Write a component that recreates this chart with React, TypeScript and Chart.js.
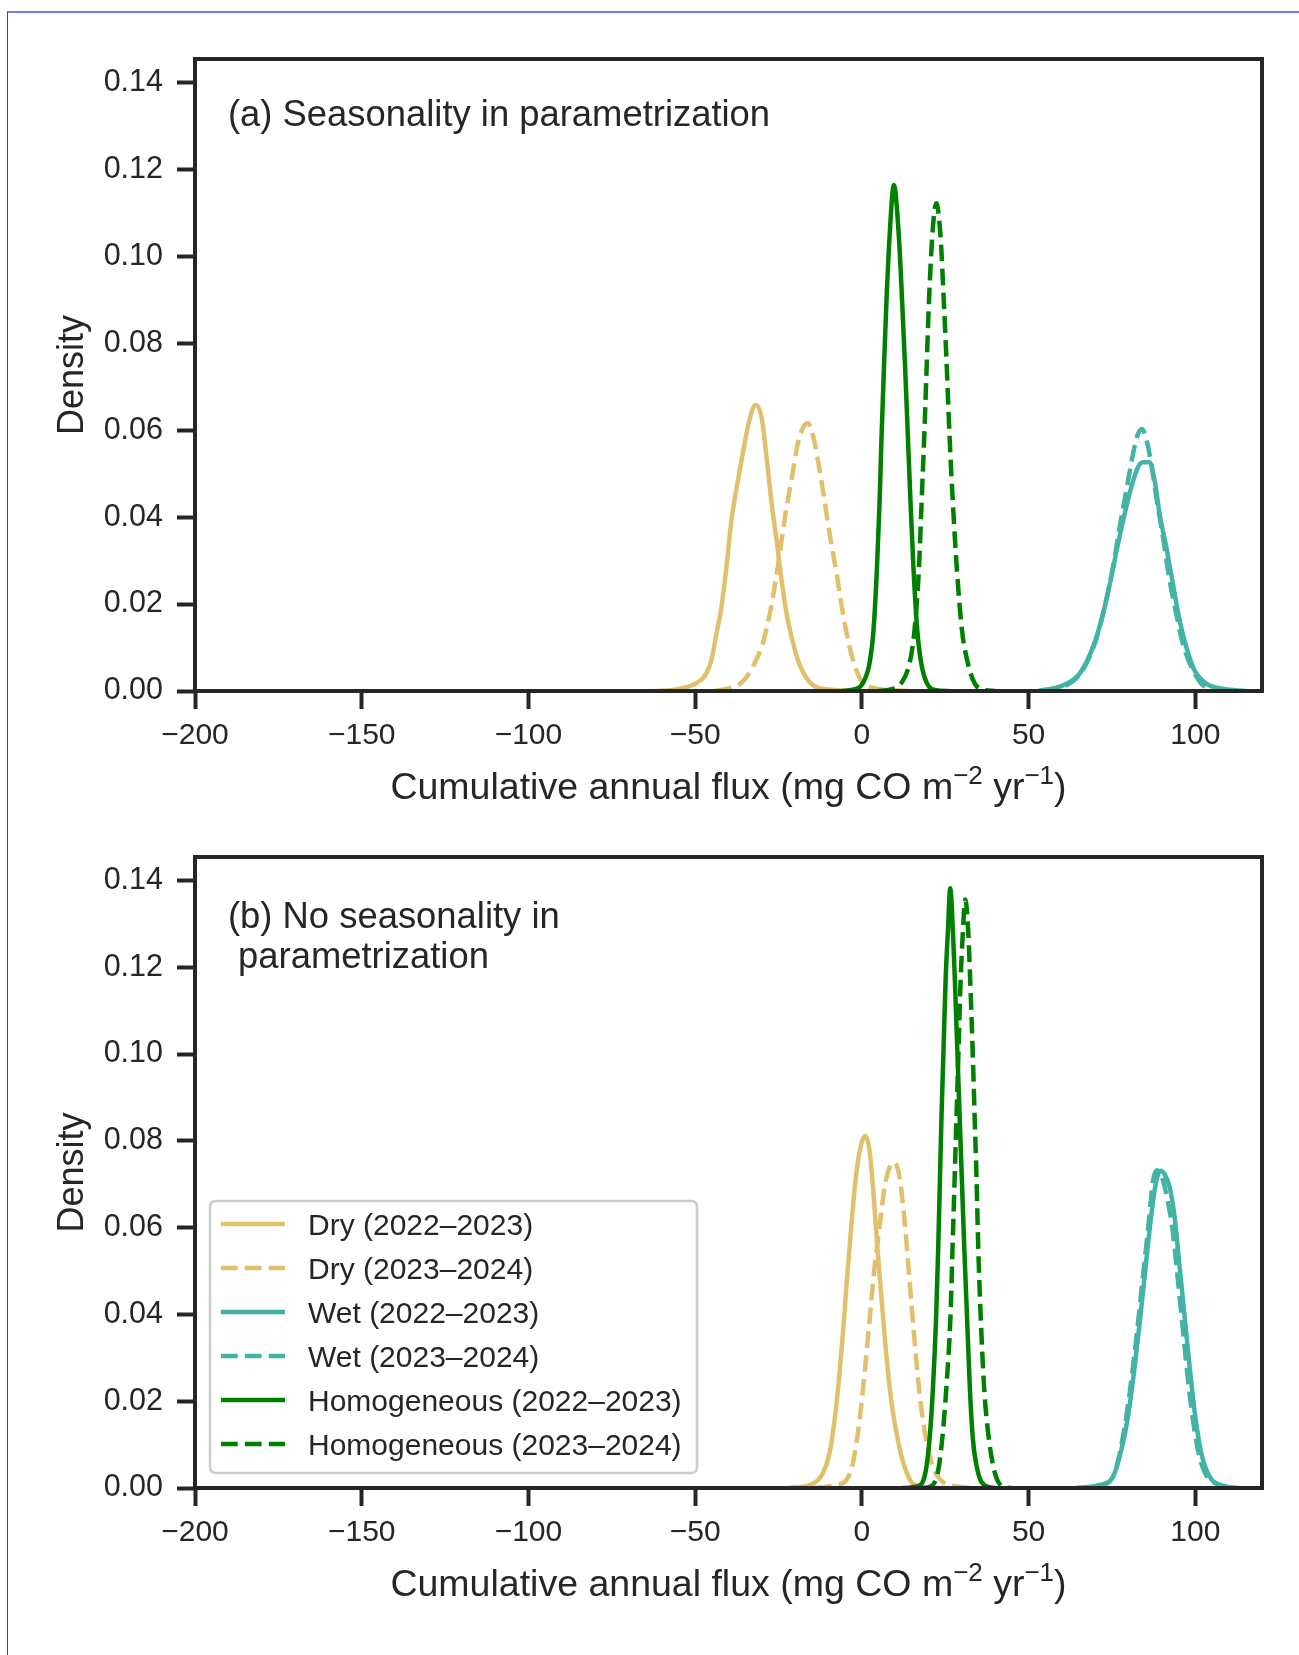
import React, { useEffect, useRef } from "react";
import { Chart, registerables } from "chart.js";

Chart.register(...registerables);

const FONT = '"Liberation Sans", Arial, Helvetica, sans-serif';
const INK = "#262626";

// ---- axes ----
const xTickValues = [-200, -150, -100, -50, 0, 50, 100];
const yTickValues = [0, 0.02, 0.04, 0.06, 0.08, 0.1, 0.12, 0.14];
const xRange = [-200, 120];
const yRange = [0, 0.1454];
const xAxisTitle = ["Cumulative annual flux (mg CO m", "−2", " yr", "−1", ")"];
const yAxisTitle = "Density";

// ---- series ----
const seriesLabels = [
  "Dry (2022–2023)",
  "Dry (2023–2024)",
  "Wet (2022–2023)",
  "Wet (2023–2024)",
  "Homogeneous (2022–2023)",
  "Homogeneous (2023–2024)",
];
const seriesColors = ["#e0c06c", "#e0c06c", "#43b3a6", "#43b3a6", "#008000", "#008000"];
const seriesDashed = [false, true, false, true, false, true];

// ---- panel (a): seasonality in parametrization ----
const dryA2223: [number, number][] = [
  [-62, 0], [-56, 0.0003], [-53.7, 0.0007], [-49.6, 0.0018], [-46.6, 0.0041], [-45.1, 0.0072],
  [-43.6, 0.0133], [-42.1, 0.0194], [-40.6, 0.0286], [-39.1, 0.0394], [-37.5, 0.047], [-35.7, 0.0547],
  [-33.7, 0.0624], [-31.9, 0.0658], [-30.1, 0.0631], [-28.6, 0.0539], [-27.2, 0.044], [-25.6, 0.0348],
  [-24.1, 0.0256], [-22.6, 0.0179], [-21.1, 0.0125], [-19.2, 0.0072], [-16.6, 0.003], [-13.6, 0.0009],
  [-7.6, 0.0002], [-3, 0],
];
const dryA2324: [number, number][] = [
  [-44, 0], [-38.7, 0.0009], [-35.7, 0.0022], [-32.7, 0.0056], [-29.7, 0.011], [-27.2, 0.0194],
  [-25.2, 0.0286], [-23.2, 0.0394], [-21.1, 0.0486], [-19.2, 0.057], [-17.5, 0.0608], [-16.2, 0.0616],
  [-14.7, 0.0589], [-13.2, 0.0532], [-11.7, 0.0463], [-9.7, 0.0363], [-7.6, 0.0271], [-5.7, 0.0179],
  [-3.7, 0.0102], [-1.7, 0.0049], [0.3, 0.0018], [3.3, 0.0007], [8.3, 0.0002], [14, 0],
];
const wetA2223: [number, number][] = [
  [53, 0], [60.3, 0.0013], [65.3, 0.004], [69.3, 0.0101], [72.3, 0.0177], [74.8, 0.0262],
  [76.8, 0.0338], [78.8, 0.0407], [80.8, 0.0469], [82.8, 0.0515], [84.3, 0.0526], [86.3, 0.0526],
  [87.8, 0.0484], [89.3, 0.0407], [91.3, 0.0331], [93.3, 0.0246], [95.3, 0.0162], [97.3, 0.0101],
  [99.8, 0.0047], [103.3, 0.0017], [108.3, 0.0005], [115, 0],
];
const wetA2324: [number, number][] = [
  [54, 0], [61.3, 0.0013], [65.8, 0.0043], [69.8, 0.0108], [72.8, 0.0193], [75.3, 0.0285],
  [77.3, 0.0377], [79.3, 0.0461], [81.3, 0.0545], [82.8, 0.0591], [84.0, 0.0603], [85.3, 0.058],
  [86.8, 0.0522], [88.3, 0.0446], [90.3, 0.0354], [92.3, 0.0254], [94.3, 0.0177], [96.3, 0.0108],
  [98.8, 0.0055], [101.8, 0.0017], [105.3, 0.0003], [108, 0],
];
const homA2223: [number, number][] = [
  [-6, 0], [-2.7, 0.0003], [0.3, 0.0018], [2.3, 0.0064], [3.5, 0.0141], [4.5, 0.0279],
  [5.3, 0.0432], [5.9, 0.0585], [6.6, 0.0739], [7.35, 0.0892], [8.3, 0.1045], [9.6, 0.1164],
  [11.1, 0.1045], [12.1, 0.0892], [13.0, 0.0739], [13.8, 0.0585], [14.6, 0.0432], [15.5, 0.0279],
  [16.6, 0.0141], [17.8, 0.0064], [19.5, 0.0018], [22.3, 0.0002], [26, 0],
];
const homA2324: [number, number][] = [
  [5, 0], [8.3, 0.0003], [11.8, 0.0018], [14.3, 0.0064], [15.8, 0.0141], [17.1, 0.0279],
  [17.9, 0.0432], [18.7, 0.0585], [19.4, 0.0739], [20.1, 0.0892], [21.1, 0.1045], [22.3, 0.1122],
  [23.6, 0.1045], [24.6, 0.0892], [25.5, 0.0739], [26.3, 0.0585], [27.3, 0.0432], [28.5, 0.0279],
  [30.0, 0.0141], [31.8, 0.0064], [33.8, 0.0018], [36.3, 0.0003], [40, 0],
];

// ---- panel (b): no seasonality in parametrization ----
const dryB2223: [number, number][] = [
  [-22, 0], [-14.7, 0.001], [-11.7, 0.0034], [-9.7, 0.008], [-8.2, 0.0156], [-6.9, 0.0248],
  [-5.7, 0.0355], [-4.5, 0.0478], [-3.2, 0.0601], [-1.7, 0.0723], [-0.2, 0.0792], [1.0, 0.0811],
  [2.3, 0.0777], [3.5, 0.0677], [4.8, 0.0539], [6.1, 0.0417], [7.3, 0.031], [8.8, 0.0202],
  [10.8, 0.011], [12.8, 0.0049], [15.3, 0.001], [19.3, 0.0001], [25, 0],
];
const dryB2324: [number, number][] = [
  [-14, 0], [-7.7, 0.0007], [-4.7, 0.0018], [-2.7, 0.0057], [-0.7, 0.0156], [0.8, 0.0263],
  [2.3, 0.0386], [3.8, 0.0509], [5.3, 0.0601], [6.8, 0.0693], [8.3, 0.0739], [9.8, 0.075],
  [11.3, 0.0716], [12.8, 0.0616], [14.3, 0.0478], [15.8, 0.034], [17.3, 0.0218], [19.1, 0.0118],
  [21.3, 0.0049], [24.3, 0.0014], [29.3, 0.0003], [34, 0],
];
const wetB2223: [number, number][] = [
  [64, 0], [71.3, 0.0007], [75.3, 0.0026], [77.8, 0.0087], [79.8, 0.0164], [81.8, 0.0279],
  [83.5, 0.0394], [85.1, 0.0509], [86.6, 0.0616], [88.1, 0.07], [89.5, 0.0731], [90.8, 0.0723],
  [92.3, 0.0693], [93.8, 0.0624], [95.3, 0.0509], [96.8, 0.0394], [98.3, 0.0279], [100.0, 0.0164],
  [101.8, 0.008], [104.3, 0.0026], [108.3, 0.0005], [113, 0],
];
const wetB2324: [number, number][] = [
  [65, 0], [72.3, 0.0007], [75.8, 0.0034], [77.5, 0.0087], [79.3, 0.0164], [81.3, 0.0279],
  [83.0, 0.0394], [84.6, 0.0509], [86.1, 0.0616], [87.3, 0.0708], [88.5, 0.0732], [90.0, 0.0716],
  [91.5, 0.067], [93.1, 0.06], [94.6, 0.0493], [96.1, 0.0378], [97.6, 0.0264], [99.3, 0.0156],
  [101.1, 0.0076], [103.3, 0.0029], [107.3, 0.0007], [111, 0],
];
const homB2223: [number, number][] = [
  [12, 0], [16.8, 0.0004], [19.1, 0.0037], [20.3, 0.0113], [21.3, 0.0227], [22.3, 0.0401],
  [22.9, 0.0555], [23.4, 0.0708], [23.9, 0.0861], [24.5, 0.1014], [25.1, 0.1168], [25.8, 0.1283],
  [26.5, 0.1382], [27.3, 0.1283], [27.9, 0.1168], [28.6, 0.1014], [29.3, 0.0861], [30.0, 0.0708],
  [30.7, 0.0555], [31.5, 0.0401], [32.4, 0.0227], [33.3, 0.0113], [34.8, 0.0037], [37.3, 0.0004], [40, 0],
];
const homB2324: [number, number][] = [
  [18, 0], [20.8, 0.0004], [22.8, 0.0037], [24.1, 0.0113], [25.3, 0.0227], [26.6, 0.0401],
  [27.2, 0.0555], [27.8, 0.0708], [28.4, 0.0861], [29.0, 0.1014], [29.6, 0.1168], [30.3, 0.1283],
  [31.0, 0.1356], [31.9, 0.1283], [32.5, 0.1168], [33.2, 0.1014], [33.8, 0.0861], [34.4, 0.0708],
  [34.9, 0.0555], [35.6, 0.0401], [36.7, 0.0227], [38.1, 0.0113], [39.8, 0.0037], [42.3, 0.0003], [45, 0],
];

const panelACurves = [dryA2223, dryA2324, wetA2223, wetA2324, homA2223, homA2324];
const panelBCurves = [dryB2223, dryB2324, wetB2223, wetB2324, homB2223, homB2324];
const panelANote = ["(a) Seasonality in parametrization"];
const panelBNote = ["(b) No seasonality in", " parametrization"];

// ---- layout (page pixels) ----
const W = 1299;
const H = 1655;
const PLOT_LEFT = 195;
const PLOT_RIGHT = 1262;
const X_AXIS_H = 80;
const LINE_W = 4.5;
const DASH = [16.7, 7.2];

type PanelProps = {
  curves: [number, number][][];
  top: number;
  bottom: number;
  note: string[];
  noteOffset: number;
  legend: boolean;
};

function drawXTitle(ctx: CanvasRenderingContext2D, cx: number, baseY: number) {
  const big = `37.5px ${FONT}`;
  const small = `26px ${FONT}`;
  const fonts = [big, small, big, small, big];
  const rise = [0, 15.5, 0, 15.5, 0];
  const widths = xAxisTitle.map((t, i) => {
    ctx.font = fonts[i];
    return ctx.measureText(t).width;
  });
  const total = widths.reduce((s, w) => s + w, 0);
  let x = cx - total / 2;
  ctx.textAlign = "left";
  ctx.textBaseline = "alphabetic";
  xAxisTitle.forEach((t, i) => {
    ctx.font = fonts[i];
    ctx.fillText(t, x, baseY - rise[i]);
    x += widths[i];
  });
}

function makeDecor(note: string[], noteOffset: number, legend: boolean) {
  return {
    id: "panelDecor",
    afterDraw(chart: any) {
      const ctx: CanvasRenderingContext2D = chart.ctx;
      const a = chart.chartArea;
      ctx.save();
      ctx.setLineDash([]);
      // frame
      ctx.strokeStyle = INK;
      ctx.lineWidth = 4;
      ctx.strokeRect(a.left, a.top, a.right - a.left, a.bottom - a.top);

      ctx.fillStyle = INK;
      // y title
      ctx.save();
      ctx.font = `36px ${FONT}`;
      ctx.translate(83, (a.top + a.bottom) / 2);
      ctx.rotate(-Math.PI / 2);
      ctx.textAlign = "center";
      ctx.textBaseline = "alphabetic";
      ctx.fillText(yAxisTitle, 0, 0);
      ctx.restore();

      // x title
      drawXTitle(ctx, (a.left + a.right) / 2, a.bottom + 108);

      // panel note
      ctx.font = `36.4px ${FONT}`;
      ctx.textAlign = "left";
      ctx.textBaseline = "alphabetic";
      note.forEach((line, i) => {
        ctx.fillText(line, 228, a.top + noteOffset + i * 39.5);
      });

      if (legend) {
        const bx = 210, by = 1201, bw = 487, bh = 272, r = 6;
        ctx.beginPath();
        ctx.moveTo(bx + r, by);
        ctx.lineTo(bx + bw - r, by);
        ctx.quadraticCurveTo(bx + bw, by, bx + bw, by + r);
        ctx.lineTo(bx + bw, by + bh - r);
        ctx.quadraticCurveTo(bx + bw, by + bh, bx + bw - r, by + bh);
        ctx.lineTo(bx + r, by + bh);
        ctx.quadraticCurveTo(bx, by + bh, bx, by + bh - r);
        ctx.lineTo(bx, by + r);
        ctx.quadraticCurveTo(bx, by, bx + r, by);
        ctx.closePath();
        ctx.fillStyle = "rgba(255,255,255,0.8)";
        ctx.fill();
        ctx.strokeStyle = "#cccccc";
        ctx.lineWidth = 2.5;
        ctx.stroke();

        seriesLabels.forEach((label, i) => {
          const y = 1224 + 44 * i;
          ctx.beginPath();
          ctx.setLineDash(seriesDashed[i] ? DASH : []);
          ctx.strokeStyle = seriesColors[i];
          ctx.lineWidth = LINE_W;
          ctx.lineCap = "butt";
          ctx.moveTo(221, y);
          ctx.lineTo(285, y);
          ctx.stroke();
          ctx.setLineDash([]);
          ctx.fillStyle = INK;
          ctx.font = `30px ${FONT}`;
          ctx.textAlign = "left";
          ctx.textBaseline = "alphabetic";
          ctx.fillText(label, 308, y + 10.7);
        });
      }
      ctx.restore();
    },
  };
}

function Panel({ curves, top, bottom, note, noteOffset, legend }: PanelProps) {
  const ref = useRef<HTMLCanvasElement>(null);
  useEffect(() => {
    const canvas = ref.current;
    if (!canvas) return;
    const datasets = curves.map((pts, i) => ({
      label: seriesLabels[i],
      data: pts.map(([x, y]) => ({ x, y })),
      borderColor: seriesColors[i],
      backgroundColor: seriesColors[i],
      borderWidth: LINE_W,
      borderDash: seriesDashed[i] ? DASH : [],
      borderCapStyle: "butt",
      borderJoinStyle: "round",
      pointRadius: 0,
      fill: false,
      cubicInterpolationMode: "monotone",
      order: 10 - i,
    }));
    const chart = new Chart(canvas, {
      type: "line",
      data: { datasets } as any,
      options: {
        responsive: false,
        animation: false,
        devicePixelRatio: 1,
        events: [],
        layout: {
          padding: {
            left: 0,
            top: top,
            right: W - PLOT_RIGHT,
            bottom: H - bottom - X_AXIS_H,
          },
        },
        plugins: {
          legend: { display: false },
          tooltip: { enabled: false },
          title: { display: false },
        },
        scales: {
          x: {
            type: "linear",
            position: "bottom",
            min: xRange[0],
            max: xRange[1],
            afterBuildTicks: (s: any) => {
              s.ticks = xTickValues.map((v) => ({ value: v }));
            },
            afterFit: (s: any) => {
              s.height = X_AXIS_H;
            },
            grid: {
              display: true,
              drawOnChartArea: false,
              drawTicks: true,
              tickLength: 18,
              tickWidth: 4,
              tickColor: INK,
            },
            border: { display: false },
            ticks: {
              autoSkip: false,
              maxRotation: 0,
              minRotation: 0,
              padding: 9,
              color: INK,
              font: { family: FONT, size: 30 },
              callback: (v: any) => String(v).replace("-", "−"),
            },
          },
          y: {
            type: "linear",
            position: "left",
            min: yRange[0],
            max: yRange[1],
            afterBuildTicks: (s: any) => {
              s.ticks = yTickValues.map((v) => ({ value: v }));
            },
            afterFit: (s: any) => {
              s.width = PLOT_LEFT;
            },
            grid: {
              display: true,
              drawOnChartArea: false,
              drawTicks: true,
              tickLength: 18,
              tickWidth: 4,
              tickColor: INK,
            },
            border: { display: false },
            ticks: {
              autoSkip: false,
              padding: 14,
              color: INK,
              font: { family: FONT, size: 30.5 },
              callback: (v: any) => Number(v).toFixed(2),
            },
          },
        },
      } as any,
      plugins: [makeDecor(note, noteOffset, legend)],
    });
    return () => chart.destroy();
  }, []);
  return (
    <canvas
      ref={ref}
      width={W}
      height={H}
      style={{ position: "absolute", left: 0, top: 0, width: W, height: H }}
    />
  );
}

export default function App() {
  return (
    <div
      style={{
        position: "absolute",
        left: 0,
        top: 0,
        width: W,
        height: H,
        background: "#ffffff",
        overflow: "hidden",
      }}
    >
      <div
        style={{
          position: "absolute",
          left: 7,
          top: 11,
          width: W - 7,
          height: H - 11,
          borderTop: "2px solid #7777ff",
          borderLeft: "1px solid #3333ff",
          boxSizing: "border-box",
        }}
      />
      <Panel curves={panelACurves} top={59} bottom={691} note={panelANote} noteOffset={67} legend={false} />
      <Panel curves={panelBCurves} top={857} bottom={1488} note={panelBNote} noteOffset={71} legend={true} />
    </div>
  );
}
